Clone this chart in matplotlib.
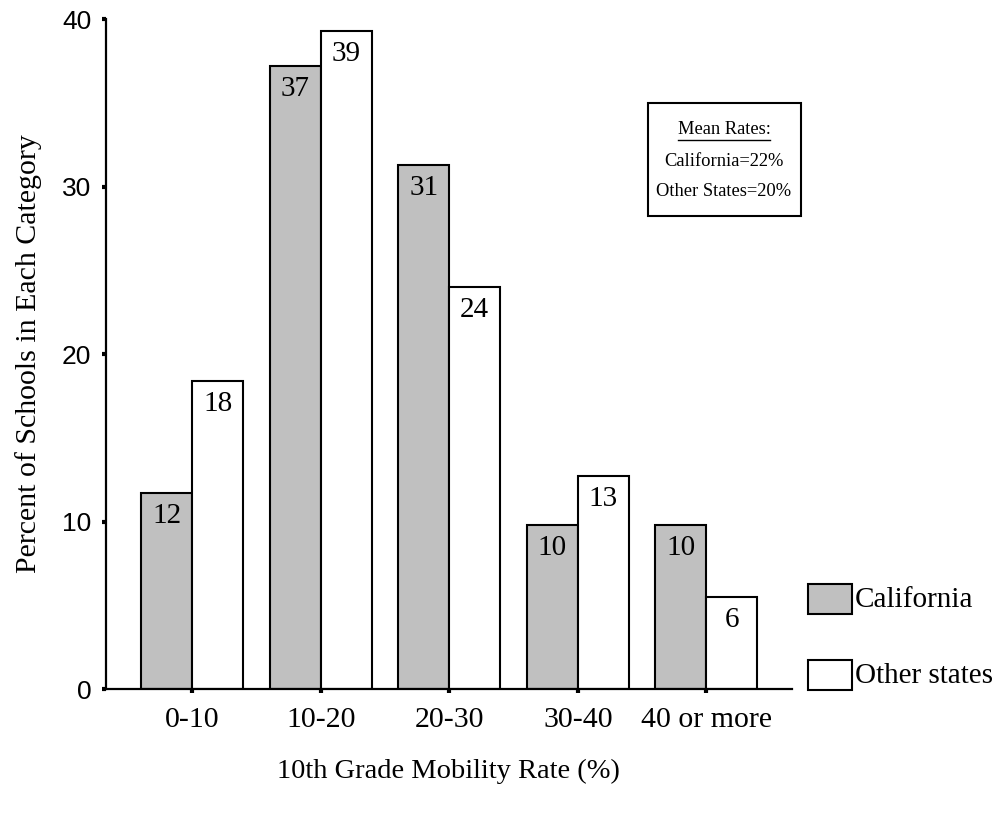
import matplotlib
matplotlib.use("Agg")
import matplotlib.pyplot as plt
from matplotlib.patches import Rectangle
import numpy as np

categories = ["0-10", "10-20", "20-30", "30-40", "40 or more"]
california = [11.7, 37.2, 31.3, 9.8, 9.8]
other_states = [18.4, 39.3, 24.0, 12.7, 5.5]
y_ticks = [0, 10, 20, 30, 40]
series_names = ["California", "Other states"]
mean_lines = ["Mean Rates:", "California=22%", "Other States=20%"]

serif = "Liberation Serif"
sans = "Liberation Sans"
gray = "#c0c0c0"

fig = plt.figure(figsize=(9.97, 8.13), dpi=100)
ax = fig.add_axes([0.1068, 0.1525, 0.6876, 0.824])

x = np.arange(len(categories))
w = 0.397
edge = dict(edgecolor="black", linewidth=1.5)
b1 = ax.bar(x - w / 2, california, w, color=gray, **edge)
b2 = ax.bar(x + w / 2, other_states, w, color="white", **edge)

for bars, vals in ((b1, california), (b2, other_states)):
    for rect, v in zip(bars, vals):
        ax.annotate(f"{v:.0f}", (rect.get_x() + rect.get_width() / 2, v),
                    xytext=(0, -23), textcoords="offset pixels",
                    ha="center", va="center", fontsize=21, family=serif)

ax.set_xlim(-0.667, 4.667)
ax.set_ylim(0, 40)
ax.set_yticks(y_ticks)
ax.set_yticklabels([str(t) for t in y_ticks], family=sans, fontsize=19)
ax.set_xticks(x)
ax.set_xticklabels(categories, family=serif, fontsize=21.5)
ax.tick_params(axis="y", direction="out", length=3, width=3, pad=8)
ax.tick_params(axis="x", direction="out", length=3, width=3, pad=10)

for s in ("top", "right"):
    ax.spines[s].set_visible(False)
for s in ("left", "bottom"):
    ax.spines[s].set_linewidth(1.6)

ax.set_ylabel("Percent of Schools in Each Category", family=serif, fontsize=21.5, labelpad=14)
W, H = 997, 813
fig.text(448 / W, 1 - 771 / H, "10th Grade Mobility Rate (%)", family=serif,
         fontsize=20.5, ha="center", va="center")

# mean-rates box
fig.patches.append(Rectangle((648 / W, 1 - 216 / H), 153 / W, 113 / H,
                             transform=fig.transFigure, facecolor="white",
                             edgecolor="black", linewidth=1.5))
mean_texts = []
for txt, yp in zip(mean_lines, (129, 161, 192)):
    mean_texts.append(fig.text(724 / W, 1 - yp / H, txt, family=serif, fontsize=13.3,
                               ha="center", va="center"))

# underline the heading across its own width
fig.canvas.draw()
bb = mean_texts[0].get_window_extent(fig.canvas.get_renderer())
fig.lines.append(plt.Line2D([bb.x0 / W, bb.x1 / W], [1 - 140 / H, 1 - 140 / H],
                            transform=fig.transFigure, color="black", linewidth=1))

# legend
for name, color, top in zip(series_names, (gray, "white"), (584, 660)):
    fig.patches.append(Rectangle((808 / W, 1 - (top + 30) / H), 44 / W, 30 / H,
                                 transform=fig.transFigure, facecolor=color,
                                 edgecolor="black", linewidth=1.5))
    fig.text(855 / W, 1 - (top + 16) / H, name, family=serif, fontsize=21,
             ha="left", va="center")

fig.savefig("out.png", dpi=100)
